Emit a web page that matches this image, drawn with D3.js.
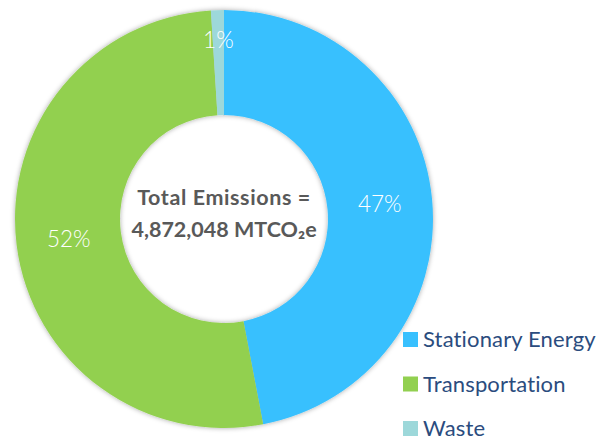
<!DOCTYPE html>
<html>
<head>
<meta charset="utf-8">
<script src="https://cdn.jsdelivr.net/npm/d3@7"></script>
<style>
  html, body { margin: 0; padding: 0; background: #ffffff; }
  svg { display: block; }
</style>
</head>
<body>
<svg id="chart" width="597" height="441"></svg>
<script>
// Emission sectors and their share of the total (percent)
const sectors = ["Stationary Energy", "Transportation", "Waste"];
const shares = [47, 52, 1];
const colors = ["#38C0FE", "#92D050", "#9DD8DA"];
const totalLabel = ["Total Emissions =", "4,872,048 MTCO\u2082e"];

const svg = d3.select("#chart");
const cx = 224, cy = 219, outerR = 209, innerR = 104;

const defs = svg.append("defs");
const shadow = defs.append("filter").attr("id", "soft")
  .attr("x", "-10%").attr("y", "-10%").attr("width", "120%").attr("height", "120%");
shadow.append("feDropShadow")
  .attr("dx", 0).attr("dy", 0).attr("stdDeviation", 2.5)
  .attr("flood-color", "#000").attr("flood-opacity", 0.35);

const data = sectors.map((name, i) => ({ name, value: shares[i], color: colors[i] }));

const pie = d3.pie().sort(null).value(d => d.value);
const arc = d3.arc().innerRadius(innerR).outerRadius(outerR);
const arcs = pie(data);

const g = svg.append("g").attr("transform", `translate(${cx},${cy})`);

g.append("g").attr("filter", "url(#soft)")
  .selectAll("path")
  .data(arcs)
  .join("path")
  .attr("d", arc)
  .attr("fill", d => d.data.color);

// Percent labels: centroid of the ring, pushed outward for very thin slices
const labelArc = d => {
  const r = d.data.value < 3 ? 179 : (innerR + outerR) / 2;
  return d3.arc().innerRadius(r).outerRadius(r).centroid(d);
};

g.selectAll("text.pct")
  .data(arcs)
  .join("text")
  .attr("class", "pct")
  .attr("transform", d => `translate(${labelArc(d)})`)
  .attr("text-anchor", "middle")
  .attr("dy", "0.36em")
  .attr("fill", "#ffffff")
  .style("font-family", "Lato, 'Open Sans', sans-serif")
  .style("font-weight", 300)
  .style("font-size", "22.5px")
  .text(d => d3.format(".0f")(d.data.value) + "%");

// Total in the hole
g.selectAll("text.total")
  .data(totalLabel)
  .join("text")
  .attr("class", "total")
  .attr("x", 0)
  .attr("y", (d, i) => -14 + i * 32)
  .attr("text-anchor", "middle")
  .attr("fill", "#595959")
  .style("font-family", "Lato, 'Open Sans', sans-serif")
  .style("font-weight", 700)
  .style("font-size", "21.5px")
  .style("letter-spacing", (d, i) => i === 0 ? "0.6px" : "0px")
  .text(d => d);

// Legend
const legend = svg.append("g").attr("transform", "translate(403,332)");
const rows = legend.selectAll("g")
  .data(data)
  .join("g")
  .attr("transform", (d, i) => `translate(0,${i * 44.5})`);

rows.append("rect")
  .attr("width", 15).attr("height", 15)
  .attr("fill", d => d.color);

rows.append("text")
  .attr("x", 20)
  .attr("y", 15)
  .attr("fill", "#2B4C7E")
  .style("font-family", "Lato, 'Open Sans', sans-serif")
  .style("font-weight", 400)
  .style("font-size", "22px")
  .style("letter-spacing", "0.15px")
  .text(d => d.name);
</script>
</body>
</html>
